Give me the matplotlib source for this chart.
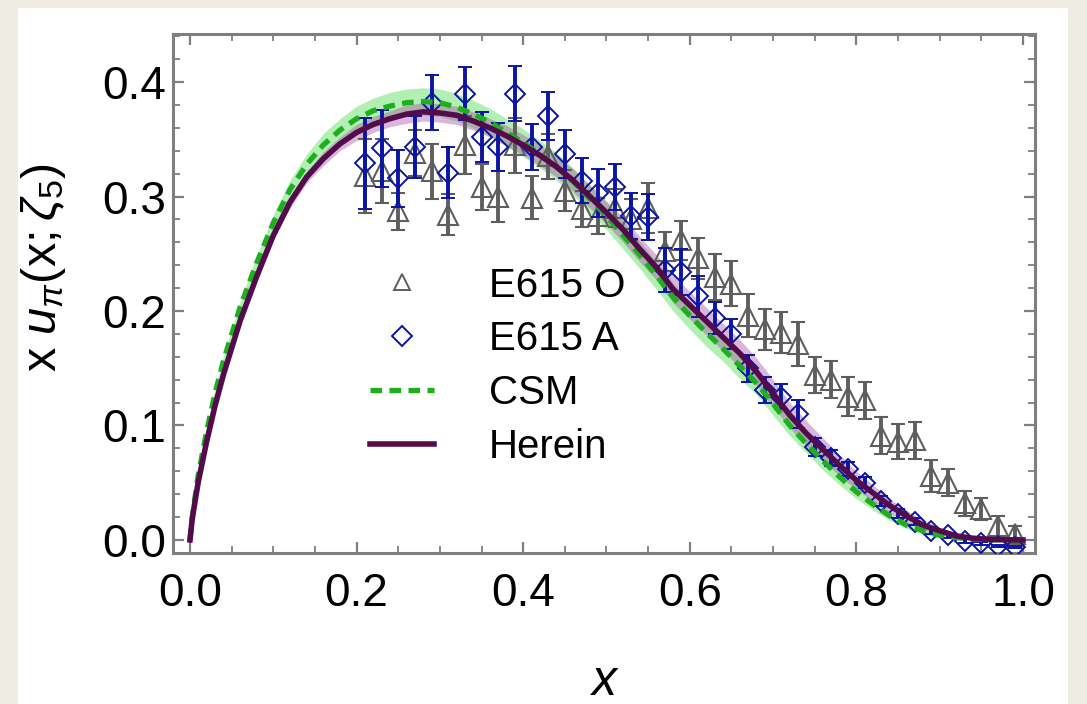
import matplotlib
matplotlib.use("Agg")
import matplotlib.pyplot as plt
from matplotlib.patches import Rectangle
from matplotlib.lines import Line2D
from matplotlib.ticker import FixedLocator, MultipleLocator, FormatStrFormatter
import numpy as np

plt.rcParams['font.family'] = ['Liberation Sans', 'DejaVu Sans']
plt.rcParams['mathtext.fontset'] = 'custom'
plt.rcParams['mathtext.rm'] = 'Liberation Sans'
plt.rcParams['mathtext.it'] = 'Liberation Sans:italic'

# ---------------- data ----------------
x_data = [0.21, 0.23, 0.25, 0.27, 0.29, 0.31, 0.33, 0.35, 0.37, 0.39,
          0.41, 0.43, 0.45, 0.47, 0.49, 0.51, 0.53, 0.55, 0.57, 0.59,
          0.61, 0.63, 0.65, 0.67, 0.69, 0.71, 0.73, 0.75, 0.77, 0.79,
          0.81, 0.83, 0.85, 0.87, 0.89, 0.91, 0.93, 0.95, 0.97, 0.99]

e615_o = [0.318, 0.322, 0.287, 0.338, 0.322, 0.284, 0.345, 0.308, 0.300, 0.345,
          0.299, 0.335, 0.305, 0.289, 0.283, 0.290, 0.280, 0.290, 0.252, 0.262,
          0.246, 0.230, 0.224, 0.196, 0.184, 0.181, 0.171, 0.144, 0.140, 0.125,
          0.122, 0.091, 0.086, 0.087, 0.056, 0.050, 0.032, 0.027, 0.012, 0.005]
e615_o_err = [0.032, 0.028, 0.016, 0.020, 0.024, 0.018, 0.025, 0.020, 0.022, 0.024,
              0.019, 0.020, 0.018, 0.016, 0.016, 0.017, 0.018, 0.022, 0.017, 0.017,
              0.018, 0.020, 0.020, 0.019, 0.018, 0.018, 0.019, 0.016, 0.016, 0.017,
              0.016, 0.016, 0.015, 0.016, 0.014, 0.012, 0.011, 0.010, 0.009, 0.007]

e615_a = [0.329, 0.342, 0.316, 0.343, 0.382, 0.321, 0.390, 0.352, 0.343, 0.390,
          0.343, 0.370, 0.337, 0.314, 0.303, 0.308, 0.283, 0.282, 0.236, 0.234,
          0.213, 0.194, 0.180, 0.150, 0.131, 0.125, 0.110, 0.081, 0.072, 0.062,
          0.050, 0.034, 0.023, 0.016, 0.008, 0.004, -0.001, -0.003, -0.005, -0.006]
e615_a_err = [0.040, 0.034, 0.025, 0.027, 0.024, 0.022, 0.023, 0.022, 0.021, 0.024,
              0.020, 0.021, 0.021, 0.020, 0.021, 0.020, 0.020, 0.020, 0.019, 0.020,
              0.018, 0.014, 0.013, 0.012, 0.011, 0.011, 0.012, 0.008, 0.007, 0.006,
              0.005, 0.004, 0.004, 0.003, 0.003, 0.002, 0.002, 0.001, 0.001, 0.001]

x_curve = [0.0, 0.0025, 0.005, 0.01, 0.02, 0.03, 0.04, 0.06, 0.08, 0.10,
           0.12, 0.14, 0.16, 0.18, 0.20, 0.22, 0.24, 0.26, 0.28, 0.30,
           0.32, 0.34, 0.36, 0.38, 0.40, 0.42, 0.44, 0.46, 0.48, 0.50,
           0.52, 0.54, 0.56, 0.58, 0.60, 0.62, 0.64, 0.66, 0.68, 0.70,
           0.72, 0.74, 0.76, 0.78, 0.80, 0.82, 0.84, 0.86, 0.88, 0.90,
           0.92, 0.94, 0.96, 0.98, 1.0]

herein = [0.0, 0.017, 0.029, 0.051, 0.086, 0.117, 0.144, 0.191, 0.230, 0.266,
          0.295, 0.317, 0.333, 0.346, 0.356, 0.363, 0.368, 0.372, 0.374, 0.373,
          0.371, 0.366, 0.360, 0.353, 0.345, 0.336, 0.326, 0.314, 0.300, 0.286,
          0.271, 0.254, 0.238, 0.219, 0.205, 0.191, 0.177, 0.163, 0.147, 0.128,
          0.109, 0.093, 0.079, 0.065, 0.052, 0.041, 0.030, 0.021, 0.013, 0.008,
          0.0035, 0.0015, 0.0005, 0.0001, 0.0]
herein_band = [0.0, 0.001, 0.001, 0.001, 0.002, 0.002, 0.003, 0.003, 0.004, 0.004,
               0.005, 0.005, 0.006, 0.006, 0.007, 0.007, 0.007, 0.008, 0.008, 0.008,
               0.008, 0.008, 0.008, 0.009, 0.009, 0.009, 0.009, 0.010, 0.010, 0.010,
               0.011, 0.011, 0.011, 0.012, 0.012, 0.012, 0.012, 0.012, 0.012, 0.012,
               0.011, 0.011, 0.010, 0.009, 0.008, 0.007, 0.006, 0.005, 0.004, 0.003,
               0.002, 0.001, 0.001, 0.0, 0.0]

csm = [0.0, 0.019, 0.032, 0.057, 0.095, 0.128, 0.156, 0.203, 0.242, 0.277,
       0.306, 0.328, 0.345, 0.358, 0.368, 0.375, 0.379, 0.382, 0.383, 0.382,
       0.378, 0.372, 0.365, 0.356, 0.347, 0.337, 0.326, 0.313, 0.298, 0.283,
       0.266, 0.249, 0.231, 0.212, 0.196, 0.181, 0.167, 0.152, 0.137, 0.119,
       0.100, 0.084, 0.069, 0.055, 0.042, 0.031, 0.021, 0.013, 0.008, 0.004,
       0.002, 0.0008, 0.0002, 0.0, 0.0]
csm_band = [0.0, 0.001, 0.001, 0.002, 0.003, 0.004, 0.004, 0.005, 0.006, 0.007,
            0.008, 0.009, 0.010, 0.010, 0.011, 0.011, 0.012, 0.012, 0.012, 0.012,
            0.012, 0.012, 0.012, 0.012, 0.012, 0.012, 0.012, 0.012, 0.012, 0.012,
            0.012, 0.012, 0.012, 0.012, 0.012, 0.012, 0.011, 0.011, 0.010, 0.010,
            0.009, 0.008, 0.008, 0.007, 0.006, 0.005, 0.004, 0.003, 0.003, 0.002,
            0.001, 0.001, 0.0, 0.0, 0.0]

x_ticks = [0.0, 0.2, 0.4, 0.6, 0.8, 1.0]
y_ticks = [0.0, 0.1, 0.2, 0.3, 0.4]

legend_labels = ['E615 O', 'E615 A', 'CSM', 'Herein']

# ---------------- styles ----------------
GRAY = '#5e5e5e'
BLUE = '#0b15a3'
GREEN = '#1fae1f'
PURPLE = '#530b4c'
FRAME = '#7f7f7f'
DASH = (0, (2.2, 1.4))

W, H = 1087, 704
fig = plt.figure(figsize=(W / 100, H / 100), dpi=100, facecolor='#eeece3')
fig.patches.append(Rectangle((18 / W, 0), 1050 / W, 696 / H, transform=fig.transFigure,
                             facecolor='white', edgecolor='none', zorder=-10))

L, R, T, B = 173, 1035, 34, 553
ax = fig.add_axes([L / W, (H - B) / H, (R - L) / W, (B - T) / H])
ax.set_zorder(5)
ax.set_xlim(-0.0204, 1.0144)
ax.set_ylim(-0.0114, 0.442)

xc = np.array(x_curve)
h = np.array(herein)
hb = np.array(herein_band)
c = np.array(csm)
cb = np.array(csm_band)

ax.fill_between(xc, c - cb, c + cb, color='#66e066', alpha=0.5, lw=0, zorder=1)
ax.fill_between(xc, h - hb, h + hb, color='#a040a0', alpha=0.38, lw=0, zorder=2)

ax.errorbar(x_data, e615_o, yerr=e615_o_err, fmt='^', ms=15, mfc='none', mec=GRAY, mew=1.5,
            ecolor=GRAY, elinewidth=2.8, capsize=4.8, capthick=3.0, zorder=3)
ax.errorbar(x_data, e615_a, yerr=e615_a_err, fmt='D', ms=10.5, mfc='none', mec=BLUE, mew=1.4,
            ecolor=BLUE, elinewidth=2.8, capsize=4.8, capthick=3.0, zorder=4)

ax.plot(xc, c, color=GREEN, lw=3.8, ls=DASH, zorder=5)
ax.plot(xc, h, color=PURPLE, lw=4.0, zorder=6)

for s in ax.spines.values():
    s.set_color(FRAME)
    s.set_linewidth(2.2)

ax.xaxis.set_major_locator(FixedLocator(x_ticks))
ax.yaxis.set_major_locator(FixedLocator(y_ticks))
ax.xaxis.set_minor_locator(MultipleLocator(0.05))
ax.yaxis.set_minor_locator(MultipleLocator(0.02))
ax.xaxis.set_major_formatter(FormatStrFormatter('%.1f'))
ax.yaxis.set_major_formatter(FormatStrFormatter('%.1f'))
ax.tick_params(which='both', direction='in', top=True, right=True, color=FRAME)
ax.tick_params(which='major', length=8, width=1.6, labelsize=33)
ax.tick_params(which='minor', length=5, width=1.3)
ax.tick_params(axis='x', which='major', pad=14)
ax.tick_params(axis='y', which='major', pad=5)

ax.set_xlabel(r'$x$', fontsize=36)
ax.xaxis.set_label_coords(0.5, -0.205)
ax.set_ylabel(r'x $u_{\pi}(\mathrm{x};\zeta_5)$', fontsize=35)
ax.yaxis.set_label_coords(-0.122, 0.55)

handles = [
    Line2D([], [], marker='^', ls='none', ms=12, mfc='none', mec=GRAY, mew=1.4),
    Line2D([], [], marker='D', ls='none', ms=10, mfc='none', mec=BLUE, mew=1.4),
    Line2D([], [], color=GREEN, lw=3.8, ls=DASH),
    Line2D([], [], color=PURPLE, lw=4.0),
]
ax.legend(handles, legend_labels, loc='upper left', bbox_to_anchor=(0.228, 0.552),
          frameon=False, fontsize=29, handlelength=1.6, handletextpad=1.36,
          labelspacing=0.39, borderaxespad=0, borderpad=0)

fig.savefig('out.png', dpi=100, facecolor=fig.get_facecolor())
